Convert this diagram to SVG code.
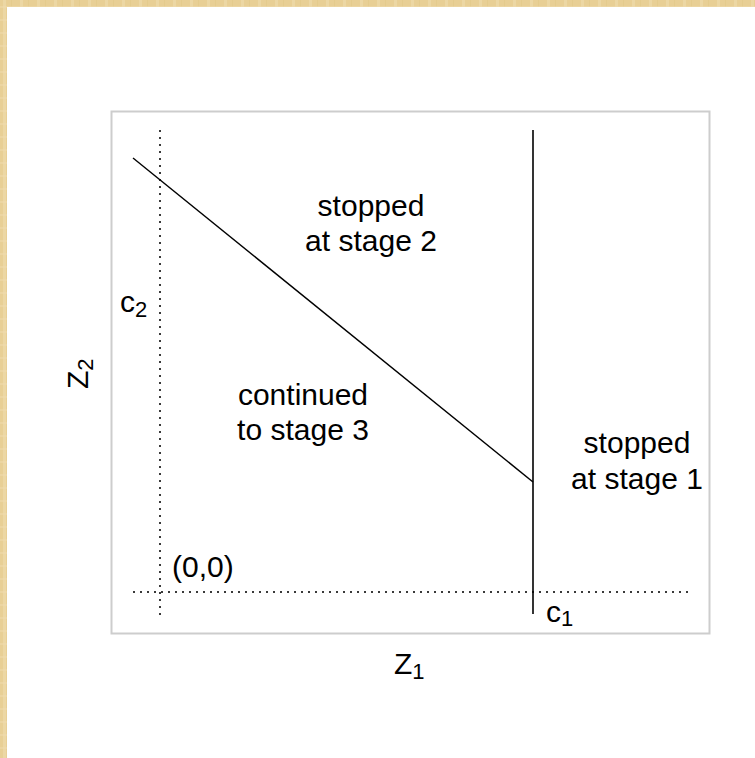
<svg xmlns="http://www.w3.org/2000/svg" width="755" height="758" viewBox="0 0 755 758">
  <style>
    .lbl { font-family: "Liberation Sans", Arial, sans-serif; font-size: 30px; fill: #000; }
    .mid { text-anchor: middle; }
    .sub { font-size: 22px; }
    .dot { stroke: #3a3a3a; stroke-width: 2; stroke-dasharray: 2 5; fill: none; }
    .solid { stroke: #000; fill: none; }
  </style>
  <defs>
    <pattern id="paper" width="17" height="13" patternUnits="userSpaceOnUse">
      <rect width="17" height="13" fill="#e8cf95"/>
      <rect x="3" width="3" height="13" fill="#eed9a8" opacity="0.8"/>
      <rect x="11" width="1" height="13" fill="#e3c98a" opacity="0.7"/>
      <rect y="6" width="17" height="2" fill="#efdcae" opacity="0.5"/>
    </pattern>
  </defs>
  <rect width="755" height="758" fill="#ffffff"/>
  <g id="frame">
    <rect x="0" y="0" width="755" height="7" fill="url(#paper)"/>
    <rect x="0" y="0" width="7" height="758" fill="url(#paper)"/>
  </g>
  <g id="plot-box">
    <rect x="111.5" y="111.5" width="598" height="522" fill="#ffffff" stroke="#cdcdcd" stroke-width="2"/>
  </g>
  <g id="connectors">
    <line class="dot" x1="160" y1="130" x2="160" y2="615"/>
    <line class="dot" x1="133" y1="592" x2="689" y2="592"/>
    <line class="solid" stroke-width="1.4" x1="133" y1="158" x2="533" y2="482"/>
    <line class="solid" stroke-width="1.6" x1="533" y1="130" x2="533" y2="614"/>
  </g>
  <g id="region-stage2">
    <text class="lbl mid" x="371" y="216">stopped</text>
    <text class="lbl mid" x="371" y="251">at stage 2</text>
  </g>
  <g id="region-stage3">
    <text class="lbl mid" x="303" y="405">continued</text>
    <text class="lbl mid" x="303" y="440">to stage 3</text>
  </g>
  <g id="region-stage1">
    <text class="lbl mid" x="637" y="453">stopped</text>
    <text class="lbl mid" x="637" y="489">at stage 1</text>
  </g>
  <g id="label-c2">
    <text class="lbl" x="120" y="312">c<tspan class="sub" dy="5">2</tspan></text>
  </g>
  <g id="label-c1">
    <text class="lbl" x="546" y="622">c<tspan class="sub" dy="4">1</tspan></text>
  </g>
  <g id="label-origin">
    <text class="lbl" x="172" y="577">(0,0)</text>
  </g>
  <g id="axis-z1">
    <text class="lbl" x="394" y="674">Z<tspan class="sub" dy="5">1</tspan></text>
  </g>
  <g id="axis-z2">
    <text class="lbl" transform="translate(88,389) rotate(-90)" x="0" y="0">Z<tspan class="sub" dy="5">2</tspan></text>
  </g>
</svg>
